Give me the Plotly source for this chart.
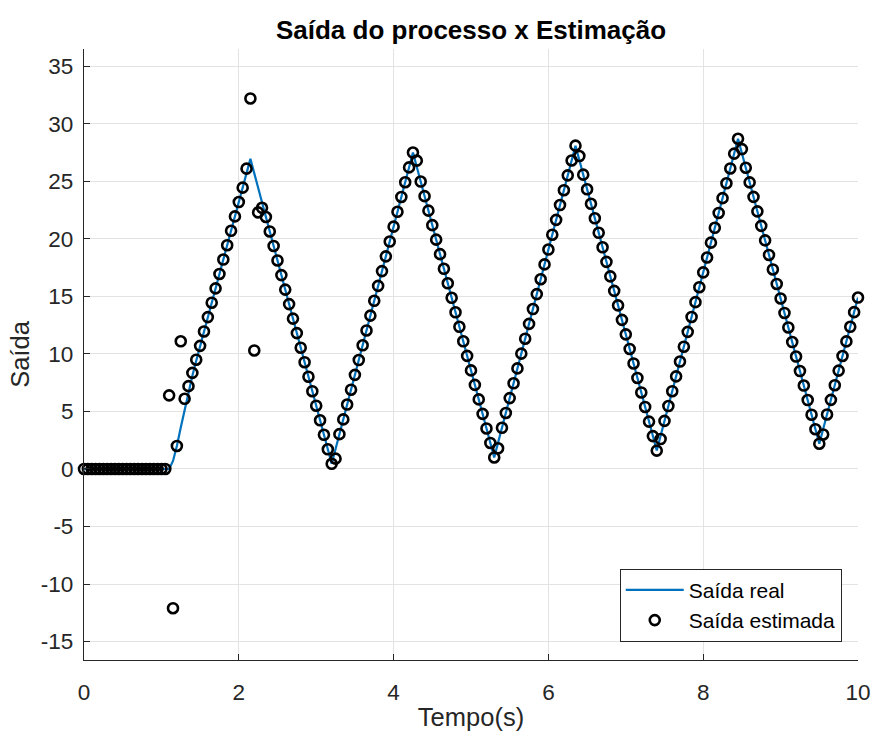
import plotly.graph_objects as go

# ---------------- data ----------------
sample_period = 0.05

saida_real = [
    0, 0, 0, 0, 0, 0, 0, 0, 0, 0, 0, 0, 0, 0, 0, 0, 0, 0, 0, 0, 0, 0, 0,
    0.7, 2.0, 3.6, 5.2, 6.7, 8.1, 9.4, 10.7, 11.95, 13.2, 14.45, 15.7, 16.95,
    18.2, 19.45, 20.7, 21.95, 23.2, 24.45, 25.7, 26.95,
    25.69, 24.43, 23.16, 21.9, 20.64, 19.38, 18.12, 16.85, 15.59, 14.33, 13.07,
    11.81, 10.54, 9.28, 8.02, 6.76, 5.5, 4.23, 2.97, 1.71, 0.45,
    1.74, 3.03, 4.31, 5.6, 6.89, 8.18, 9.47, 10.75, 12.04, 13.33, 14.62, 15.91,
    17.2, 18.48, 19.77, 21.06, 22.35, 23.64, 24.92, 26.21, 27.5,
    26.24, 24.98, 23.71, 22.45, 21.19, 19.93, 18.67, 17.4, 16.14, 14.88, 13.62,
    12.36, 11.1, 9.83, 8.57, 7.31, 6.05, 4.79, 3.52, 2.26, 1.0,
    2.29, 3.58, 4.87, 6.16, 7.45, 8.74, 10.03, 11.32, 12.61, 13.9, 15.2, 16.49,
    17.78, 19.07, 20.36, 21.65, 22.94, 24.23, 25.52, 26.81, 28.1,
    26.84, 25.58, 24.31, 23.05, 21.79, 20.53, 19.27, 18.0, 16.74, 15.48, 14.22,
    12.96, 11.7, 10.43, 9.17, 7.91, 6.65, 5.39, 4.12, 2.86, 1.6,
    2.89, 4.18, 5.47, 6.76, 8.05, 9.34, 10.63, 11.92, 13.21, 14.5, 15.8, 17.09,
    18.38, 19.67, 20.96, 22.25, 23.54, 24.83, 26.12, 27.41, 28.7,
    27.44, 26.18, 24.91, 23.65, 22.39, 21.13, 19.87, 18.6, 17.34, 16.08, 14.82,
    13.56, 12.3, 11.03, 9.77, 8.51, 7.25, 5.99, 4.72, 3.46, 2.2,
    3.47, 4.74, 6.01, 7.28, 8.55, 9.82, 11.09, 12.36, 13.63, 14.9,
]

saida_estimada = [
    0, 0, 0, 0, 0, 0, 0, 0, 0, 0, 0, 0, 0, 0, 0, 0, 0, 0, 0, 0, 0, 0,
    6.4, -12.1, 2.0, 11.1, 6.1, 7.2, 8.35, 9.5, 10.7, 11.95, 13.2, 14.45, 15.7, 16.95,
    18.2, 19.45, 20.7, 21.95, 23.2, 24.45, 26.1, 32.2,
    10.3, 22.3, 22.7, 21.9, 20.64, 19.38, 18.12, 16.85, 15.59, 14.33, 13.07,
    11.81, 10.54, 9.28, 8.02, 6.76, 5.5, 4.23, 2.97, 1.71, 0.45,
    0.9, 3.03, 4.31, 5.6, 6.89, 8.18, 9.47, 10.75, 12.04, 13.33, 14.62, 15.91,
    17.2, 18.48, 19.77, 21.06, 22.35, 23.64, 24.92, 26.21, 27.5,
    26.8, 24.98, 23.71, 22.45, 21.19, 19.93, 18.67, 17.4, 16.14, 14.88, 13.62,
    12.36, 11.1, 9.83, 8.57, 7.31, 6.05, 4.79, 3.52, 2.26, 1.0,
    1.8, 3.58, 4.87, 6.16, 7.45, 8.74, 10.03, 11.32, 12.61, 13.9, 15.2, 16.49,
    17.78, 19.07, 20.36, 21.65, 22.94, 24.23, 25.52, 26.81, 28.1,
    27.2, 25.58, 24.31, 23.05, 21.79, 20.53, 19.27, 18.0, 16.74, 15.48, 14.22,
    12.96, 11.7, 10.43, 9.17, 7.91, 6.65, 5.39, 4.12, 2.86, 1.6,
    2.6, 4.18, 5.47, 6.76, 8.05, 9.34, 10.63, 11.92, 13.21, 14.5, 15.8, 17.09,
    18.38, 19.67, 20.96, 22.25, 23.54, 24.83, 26.12, 27.41, 28.7,
    27.8, 26.18, 24.91, 23.65, 22.39, 21.13, 19.87, 18.6, 17.34, 16.08, 14.82,
    13.56, 12.3, 11.03, 9.77, 8.51, 7.25, 5.99, 4.72, 3.46, 2.2,
    3.0, 4.74, 6.01, 7.28, 8.55, 9.82, 11.09, 12.36, 13.63, 14.9,
]

tempo = [round(i * sample_period, 2) for i in range(len(saida_real))]

x_ticks = [0, 2, 4, 6, 8, 10]
y_ticks = [-15, -10, -5, 0, 5, 10, 15, 20, 25, 30, 35]

title_text = "Saída do processo x Estimação"
x_label = "Tempo(s)"
y_label = "Saída"
name_real = "Saída real"
name_est = "Saída estimada"

# ---------------- figure ----------------
FONT = "Liberation Sans, Arial, Helvetica, sans-serif"
AXC = "#262626"
GRID = "#e3e3e3"

FIG_W, FIG_H = 872, 738

fig = go.Figure()
fig.add_trace(go.Scatter(
    x=tempo, y=saida_real, mode="lines", name=name_real,
    line=dict(color="#0072BD", width=2.2),
))
fig.add_trace(go.Scatter(
    x=tempo, y=saida_estimada, mode="markers", name=name_est,
    marker=dict(symbol="circle-open", color="black", size=10,
                line=dict(color="black", width=2.6)),
    cliponaxis=False,
))

fig.update_layout(
    width=FIG_W, height=FIG_H,
    paper_bgcolor="white", plot_bgcolor="white",
    margin=dict(l=84, r=14, t=49, b=78, autoexpand=False),
    font=dict(family=FONT, size=22, color=AXC),
    title=dict(text="<b>" + title_text + "</b>", x=471 / FIG_W, xanchor="center",
               y=1 - 30 / FIG_H, yanchor="middle",
               font=dict(family=FONT, size=26, color="black")),
    showlegend=True,
    legend=dict(
        x=0.979, y=0.030, xanchor="right", yanchor="bottom",
        bgcolor="white", bordercolor=AXC, borderwidth=1,
        font=dict(family=FONT, size=21, color="black"),
        tracegroupgap=0, itemwidth=58,
    ),
)

fig.update_xaxes(
    range=[0, 10], tickvals=x_ticks, ticktext=[str(v) for v in x_ticks],
    showgrid=True, gridcolor=GRID, gridwidth=1, zeroline=False,
    showline=True, linecolor=AXC, linewidth=1.2, mirror=False,
    ticks="inside", ticklen=6, tickcolor=AXC, tickwidth=1.2,
    ticklabelstandoff=12, automargin=False, ticklabeloverflow="allow",
    tickfont=dict(family=FONT, size=22.5, color=AXC),
    title=dict(text=x_label, font=dict(family=FONT, size=25.5, color=AXC), standoff=4),
)
fig.update_yaxes(
    range=[-16.6, 36.5], tickvals=y_ticks, ticktext=[str(v) for v in y_ticks],
    showgrid=True, gridcolor=GRID, gridwidth=1, zeroline=False,
    showline=True, linecolor=AXC, linewidth=1.2, mirror=False,
    ticks="inside", ticklen=6, tickcolor=AXC, tickwidth=1.2,
    ticklabelstandoff=5, automargin=False,
    tickfont=dict(family=FONT, size=22.5, color=AXC),
    title=dict(text=y_label, font=dict(family=FONT, size=25.5, color=AXC), standoff=3),
)

# remove the default 8px page margin so the figure fills the window exactly
fig.write_html(
    "out.html",
    config={"displayModeBar": False},
    post_script="document.body.style.margin='0';document.body.style.overflow='hidden';",
)
